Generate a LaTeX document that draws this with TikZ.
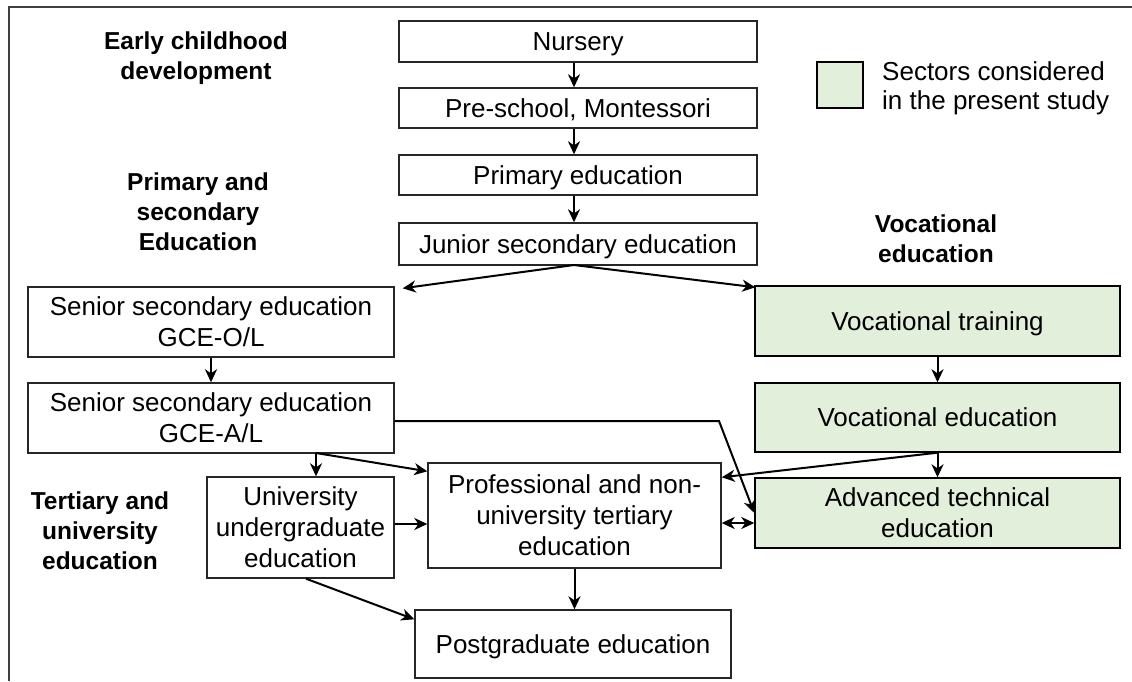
\documentclass[tikz,border=0pt]{standalone}
\usepackage{fontspec}
\setmainfont{Liberation Sans}
\usetikzlibrary{arrows.meta,calc}
\definecolor{sect}{HTML}{E2EFDA}
\begin{document}
\begin{tikzpicture}[x=1pt,y=-1pt,
  box/.style={draw=black!85, line width=1.4pt, fill=white, inner sep=0pt, text depth=0pt, align=center, font=\fontsize{26}{31}\selectfont},
  gbox/.style={box, fill=sect, draw=black},
  lab/.style={align=center, inner sep=0pt, font=\fontsize{24.5}{30}\selectfont\bfseries},
  tip/.tip={Stealth[length=13pt,width=12pt,inset=4pt]},
  arr/.style={line width=2pt, -tip},
  arrb/.style={line width=2pt, tip-tip},
]
\useasboundingbox (0,0) rectangle (1132,681);
\draw[black!75, line width=1.5pt] (9,681) -- (9,7) -- (1132,7);

% central column
\node[box, minimum width=358pt, minimum height=41pt] (nurs) at (578,41.5) {Nursery};
\node[box, minimum width=358pt, minimum height=40pt] (pre) at (578,108) {Pre-school, Montessori};
\node[box, minimum width=358pt, minimum height=40pt] (prim) at (578,175) {Primary education};
\node[box, minimum width=358pt, minimum height=42pt] (jun) at (578,244) {Junior secondary education};

% left column
\node[box, minimum width=366pt, minimum height=70pt] (sol) at (211,322) {Senior secondary education\\GCE-O/L};
\node[box, minimum width=366pt, minimum height=70pt] (sal) at (211,418) {Senior secondary education\\GCE-A/L};

% vocational column
\node[gbox, minimum width=365pt, minimum height=70pt] (vt) at (937.5,321) {Vocational training};
\node[gbox, minimum width=365pt, minimum height=69pt] (ve) at (937.5,417.5) {Vocational education};
\node[gbox, minimum width=365pt, minimum height=70pt] (adv) at (937.5,513) {Advanced technical\\education};

% tertiary
\node[box, minimum width=187pt, minimum height=101pt] (uni) at (300.5,527.5) {University\\undergraduate\\education};
\node[box, minimum width=293pt, minimum height=105pt] (prof) at (574.5,515.5) {Professional and non-\\university tertiary\\education};
\node[box, minimum width=316pt, minimum height=68pt] (post) at (573,644) {Postgraduate education};

% legend
\node[gbox, minimum width=46pt, minimum height=46pt] (leg) at (840,85) {};
\node[anchor=west, align=left, inner sep=0pt, font=\fontsize{26}{29}\selectfont] (legt) at (882,88) {Sectors considered\\in the present study};

% section labels
\node[lab] (ecd) at (196,58) {Early childhood\\development};
\node[lab] (pse) at (198,212) {Primary and\\secondary\\Education};
\node[lab] (tue) at (100,531) {Tertiary and\\university\\education};
\node[lab] (voc) at (936,239) {Vocational\\education};

% connectors
\coordinate (jb) at (574,265);
\draw[arr] (nurs.south -| jb) -- (pre.north -| jb);
\draw[arr] (pre.south -| jb) -- (prim.north -| jb);
\draw[arr] (prim.south -| jb) -- (jun.north -| jb);
\draw[arr] (jb) -- ($(sol.north east)+(8,2)$);
\draw[arr] (jb) -- ($(vt.north west)+(1,2)$);
\draw[arr] (sol.south) -- (sal.north);
\draw[arr] (vt.south) -- (ve.north);
\draw[arr] (ve.south) -- (adv.north);
\draw[arr] (ve.south) -- ($(prof.north east)+(0,15)$);
\coordinate (k1) at (719,421);
\draw[arr] (sal.east |- k1) -- (k1) -- (adv.west);
\coordinate (s1) at (316,453);
\draw[arr] (s1) -- (s1 |- uni.north);
\draw[arr] (s1) -- ($(prof.north west)+(0,9)$);
\draw[arr] (uni.east |- 0,524) -- (prof.west |- 0,524);
\draw[arrb] (prof.east |- 0,523) -- (adv.west |- 0,523);
\draw[arr] (prof.south) -- (prof.south |- post.north);
\draw[arr] (uni.south -| 306,0) -- ($(post.north west)+(0,10)$);
\end{tikzpicture}
\end{document}
